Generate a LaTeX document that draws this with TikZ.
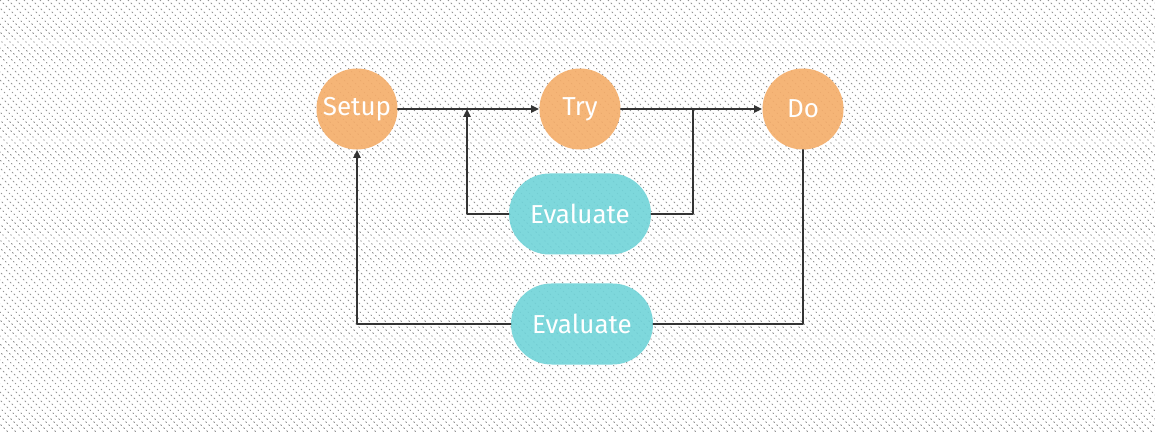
\documentclass[tikz,border=0pt]{standalone}
\usepackage{fontspec}
\setmainfont{Fira Sans}
\usetikzlibrary{arrows.meta,shapes.misc}
\definecolor{ffaa66}{rgb}{0.96,0.68,0.41}
\definecolor{66d4d9}{rgb}{0.44,0.83,0.85}
\definecolor{333333}{rgb}{0.2,0.2,0.2}
\definecolor{aaaaaa}{rgb}{0.58,0.58,0.58}

\begin{document}
\begin{tikzpicture}[line cap=round,line join=round,>={Triangle[length=4pt,width=3.6pt]},x=0.5pt,y=-0.5pt,
	stepnode/.style={circle,fill=ffaa66,fill opacity=0.9,text opacity=1,text=white,minimum size=40.5pt,inner sep=0pt,font=\fontsize{13}{15}\selectfont},
	evalnode/.style={rounded rectangle,fill=66d4d9,fill opacity=0.9,text opacity=1,text=white,minimum width=71pt,minimum height=40.5pt,inner sep=0pt,font=\fontsize{13}{15}\selectfont},
	link/.style={line width=1pt,color=333333}]
		\useasboundingbox (0,0) rectangle (1155,432);
		\fill[white] (0,0) rectangle (1155,432);
		\begin{scope}
			\clip (0,0) rectangle (1155,432);
			\foreach \x in {-440,-432,...,1160}
				\draw[color=aaaaaa,line width=0.4pt,dash pattern=on 0.6pt off 1.5pt] (\x,0) -- ({\x+432},432);
		\end{scope}
		\node[stepnode] (setup) at (357,109) {Setup};
		\node[stepnode] (try) at (580,109) {Try};
		\node[stepnode] (do) at (803,109) {Do};
		\node[evalnode] (eval1) at (580,214) {Evaluate};
		\node[evalnode] (eval2) at (582,324) {Evaluate};
		\coordinate (j1) at (467,109);
		\coordinate (j2) at (693,109);
		\draw [->,link] (setup) -- (try);
		\draw [->,link] (try) -- (do);
		\draw [->,link] (eval1.west) -| (j1);
		\draw [link] (eval1.east) -| (j2);
		\draw [->,link] (eval2.west) -| (setup.south);
		\draw [link] (eval2.east) -| (do.south);
	\end{tikzpicture}
\end{document}
